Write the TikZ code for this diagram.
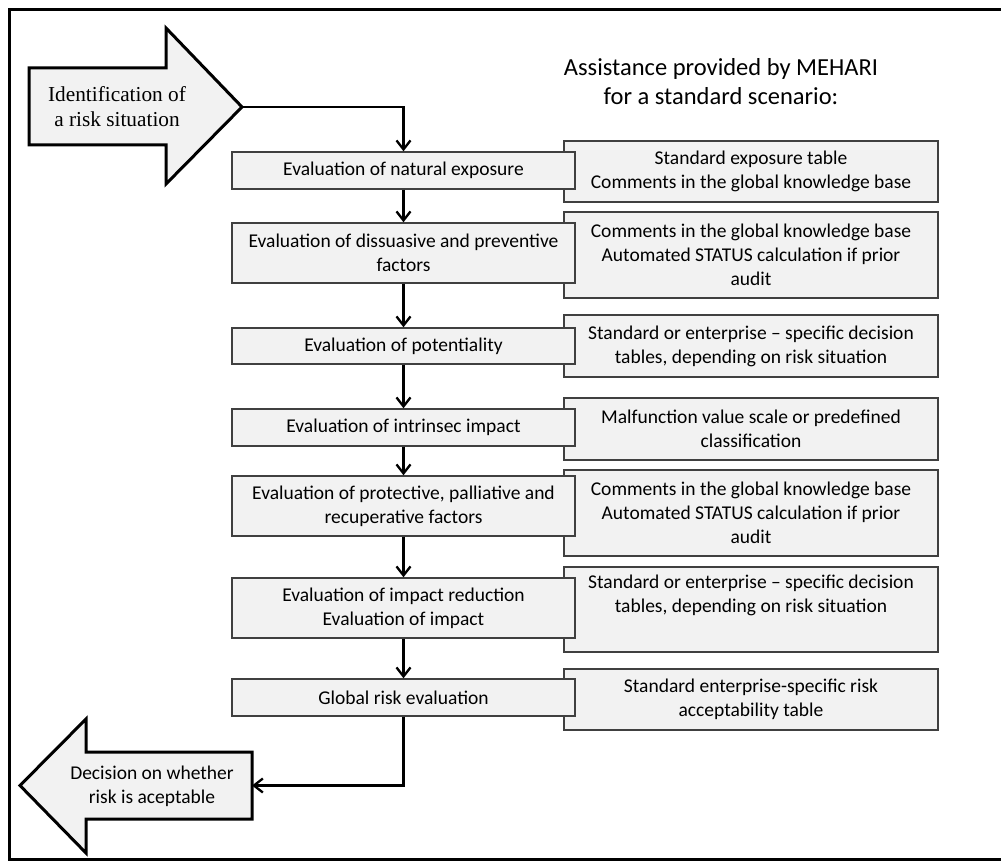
\documentclass[tikz,border=0pt]{standalone}
\usepackage{fontspec}
\setmainfont{Carlito}
\newfontfamily\serifblock{Liberation Serif}
\usetikzlibrary{arrows.meta}
\definecolor{boxfill}{HTML}{F2F2F2}
\definecolor{boxline}{HTML}{404040}
\tikzset{
  stepbox/.style={draw=boxline, line width=1.4pt, fill=boxfill, minimum width=343pt,
    inner sep=0pt, align=center, font=\fontsize{19.5}{24}\selectfont},
  helpbox/.style={draw=boxline, line width=1.4pt, fill=boxfill, minimum width=374pt,
    inner sep=0pt, align=center, font=\fontsize{19.5}{24}\selectfont},
  flow/.style={line width=2.3pt, -{Straight Barb[length=9pt,width=14pt,line width=2.3pt]}},
  blockarrow/.style={draw=black, line width=3pt, fill=boxfill, line join=miter},
}
\begin{document}
\begin{tikzpicture}[x=1pt,y=-1pt]
\useasboundingbox (0,0) rectangle (1001,861);
% outer frame
\draw[line width=3pt] (9.5,9.5) rectangle (1010,859.5);

% heading
\node[align=center, font=\fontsize{24.5}{29}\selectfont] (head) at (721,82)
  {Assistance provided by MEHARI\\for a standard scenario:};

% entry block arrow
\draw[blockarrow] (29,68) -- (166,68) -- (166,28) -- (242,107) -- (166,184)
  -- (166,145) -- (29,145) -- cycle;
\coordinate (intip) at (242,107);
\node[align=center, font=\serifblock\fontsize{21.3}{25}\selectfont] (ident) at (117,107)
  {Identification of\\a risk situation};

% exit block arrow
\draw[blockarrow] (252,752) -- (86,752) -- (86,719) -- (20,785.5) -- (86,853)
  -- (86,819) -- (252,819) -- cycle;
\coordinate (outend) at (252,785.5);
\node[align=center, font=\fontsize{19.5}{24}\selectfont] (decide) at (152,786)
  {Decision on whether\\risk is aceptable};

% assistance boxes (right column)
\node[helpbox, minimum height=61pt] (r1) at (751,171.5)
  {Standard exposure table\\Comments in the global knowledge base};
\node[helpbox, minimum height=86pt] (r2) at (751,255)
  {Comments in the global knowledge base\\Automated STATUS calculation if prior\\audit};
\node[helpbox, minimum height=62pt] (r3) at (751,346)
  {Standard or enterprise -- specific decision\\tables, depending on risk situation};
\node[helpbox, minimum height=62pt] (r4) at (751,429)
  {Malfunction value scale or predefined\\classification};
\node[helpbox, minimum height=86pt] (r5) at (751,513)
  {Comments in the global knowledge base\\Automated STATUS calculation if prior\\audit};
\node[helpbox, minimum height=85pt] (r6) at (751,609.5)
  {Standard or enterprise -- specific decision\\tables, depending on risk situation\\\strut};
\node[helpbox, minimum height=61pt] (r7) at (751,699.5)
  {Standard enterprise-specific risk\\acceptability table};

% evaluation steps (left column)
\node[stepbox, minimum height=37pt] (b1) at (403.5,170.5) {Evaluation of natural exposure};
\node[stepbox, minimum height=60pt] (b2) at (403.5,253)
  {Evaluation of dissuasive and preventive\\factors};
\node[stepbox, minimum height=36pt] (b3) at (403.5,346) {Evaluation of potentiality};
\node[stepbox, minimum height=37pt] (b4) at (403.5,427.5) {Evaluation of intrinsec impact};
\node[stepbox, minimum height=60pt] (b5) at (403.5,506)
  {Evaluation of protective, palliative and\\recuperative factors};
\node[stepbox, minimum height=60pt] (b6) at (403.5,608)
  {Evaluation of impact reduction\\Evaluation of impact};
\node[stepbox, minimum height=37pt] (b7) at (403.5,697.5) {Global risk evaluation};

% connectors
\draw[flow] (intip) -| (b1.north);
\draw[flow] (b1) -- (b2);
\draw[flow] (b2) -- (b3);
\draw[flow] (b3) -- (b4);
\draw[flow] (b4) -- (b5);
\draw[flow] (b5) -- (b6);
\draw[flow] (b6) -- (b7);
\draw[flow] (b7.south) |- (outend);
\end{tikzpicture}
\end{document}
